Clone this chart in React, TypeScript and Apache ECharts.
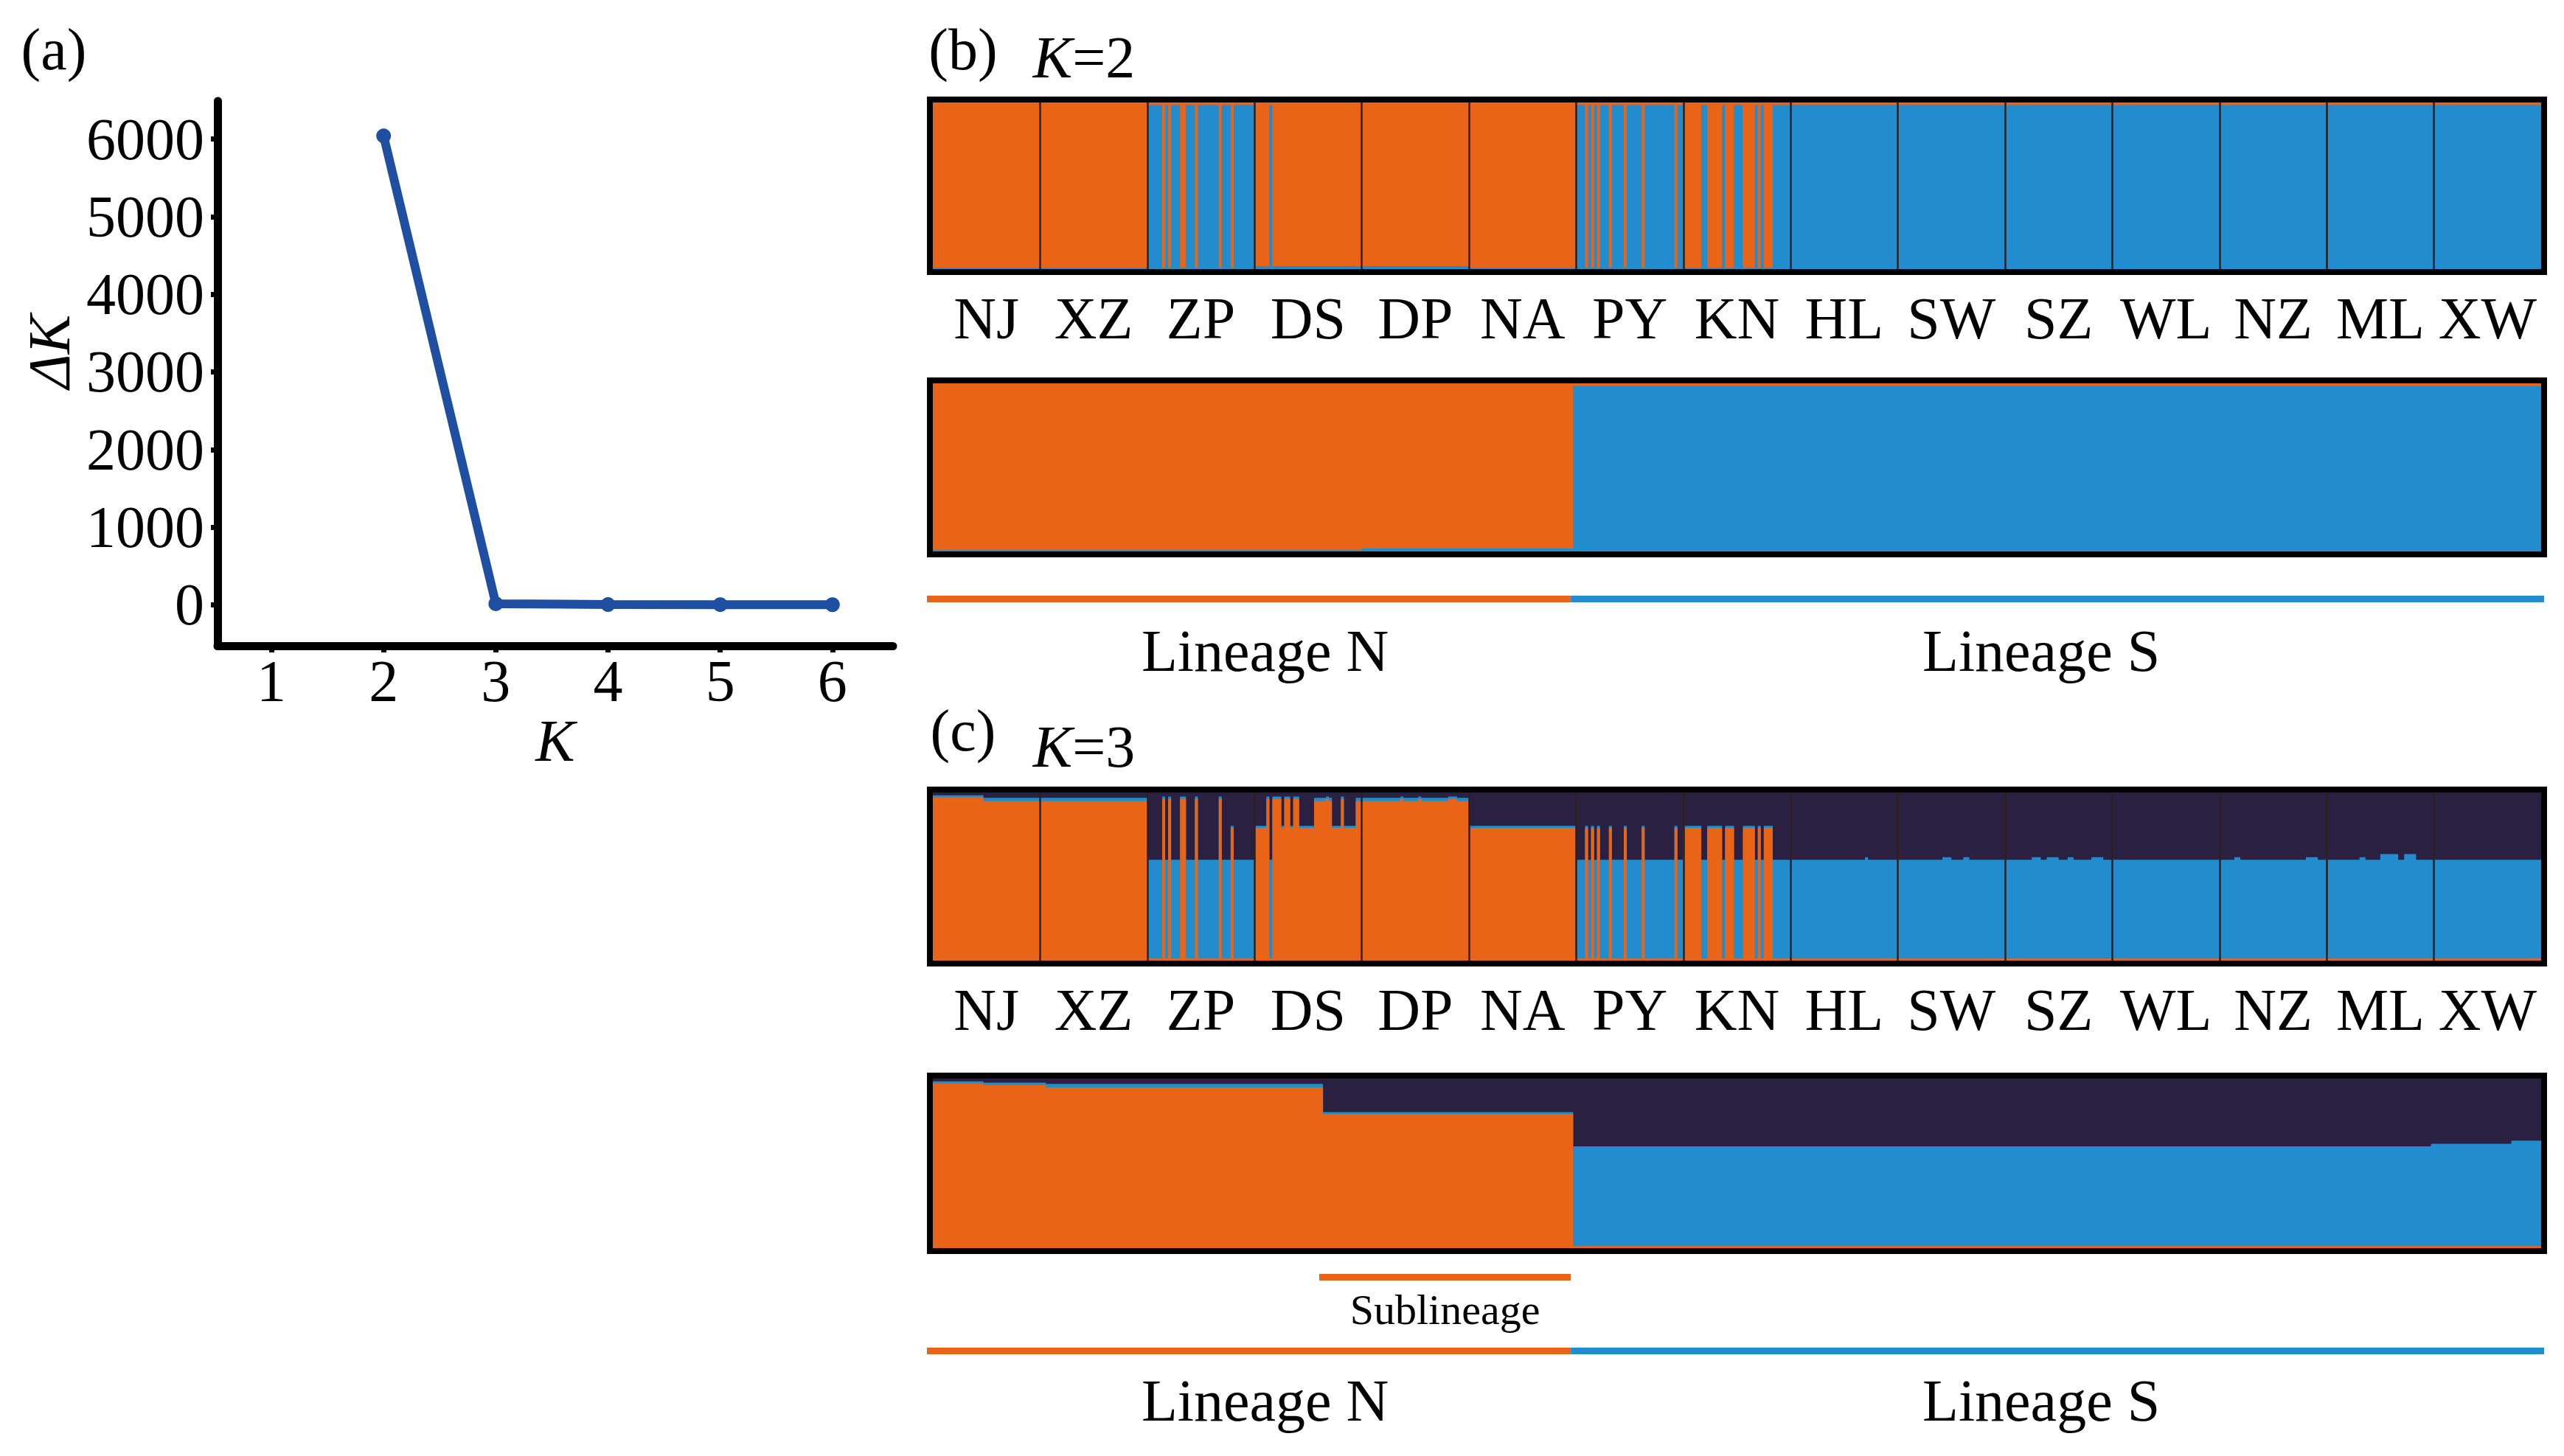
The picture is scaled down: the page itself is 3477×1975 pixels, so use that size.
import React, { useEffect, useRef } from 'react';
import * as echarts from 'echarts';

// ---------- Panel (a): Delta K ----------
const DELTA_K_X = [2, 3, 4, 5, 6];
const DELTA_K_Y = [6040, 15, 4, 3, 2];
const K_TICKS = [1, 2, 3, 4, 5, 6];
const DK_TICKS = [0, 1000, 2000, 3000, 4000, 5000, 6000];

// ---------- Panels (b)/(c): STRUCTURE ----------
const POPS = ['NJ', 'XZ', 'ZP', 'DS', 'DP', 'NA', 'PY', 'KN', 'HL', 'SW', 'SZ', 'WL', 'NZ', 'ML', 'XW'];

// K=2: blue proportion (bottom) per individual code; the rest is orange
const K2_LEVELS: Record<string, number> = { O: 0.008, P: 0.018, B: 0.985 };
const K2_CODES = [
  'OOOOOO OOOOOO OOOOOO OOOOOO OOOOOO OOOOOO', // NJ
  'OOOOOO OOOOOO OOOOOO OOOOOO OOOOOO OOOOOO', // XZ
  'BBBBBO BOBBBO OBBBOB BBBBBB OBBBOB BBBBBB', // ZP
  'PPPPPB PPPPPP PPPPPP PPPPPP PPPPPP PPPPPP', // DS
  'PPPPPP PPPPPP PPPPPP PPPPPP PPPPPP PPPPPP', // DP
  'OOOOOO OOOOOO OOOOOO OOOOOO OOOOOO OOOOOO', // NA
  'BBBOBO BOBBBO BBBBOB BBBBOB BBBBBB BBBOBB', // PY
  'OOOOOO BBOOOO OBOOOB BBOOOO BOBOOO BBBBBB', // KN
  'BBBBBB BBBBBB BBBBBB BBBBBB BBBBBB BBBBBB', // HL
  'BBBBBB BBBBBB BBBBBB BBBBBB BBBBBB BBBBBB', // SW
  'BBBBBB BBBBBB BBBBBB BBBBBB BBBBBB BBBBBB', // SZ
  'BBBBBB BBBBBB BBBBBB BBBBBB BBBBBB BBBBBB', // WL
  'BBBBBB BBBBBB BBBBBB BBBBBB BBBBBB BBBBBB', // NZ
  'BBBBBB BBBBBB BBBBBB BBBBBB BBBBBB BBBBBB', // ML
  'BBBBBB BBBBBB BBBBBB BBBBBB BBBBBB BBBBBB', // XW
];

// K=3: [orange, blue, dark] per individual code
const K3_LEVELS: Record<string, number[]> = {
  a: [0.972, 0.012, 0.016],
  h: [0.962, 0.014, 0.024],
  b: [0.948, 0.02, 0.032],
  c: [0.79, 0.012, 0.198],
  e: [0.012, 0.588, 0.4],
  f: [0.012, 0.603, 0.385],
  g: [0.012, 0.622, 0.366],
};
const K3_CODES = [
  'aaaaaa aaaaaa aaaaab bbbbbb bbbbbb bbbbbb', // NJ
  'bbbbbb bbbbbb bbbbbb bbbbbb bbbbbb bbbbbb', // XZ
  'eeeeeh eheeeh heeehe eeeeee heeece eeeeee', // ZP
  'cccche hhhchh chhccc ccbbbb hbccch ccccbb', // DS
  'bbbbbb bbbbbb bhbbbb bhbbbb bbbbbh hhbbbb', // DP
  'cccccc cccccc cccccc cccccc cccccc cccccc', // NA
  'eeecec eceeec eeeece eeeece eeeeee eeecee', // PY
  'cccccc eecccc ceccce eecccc ececcc eeeeee', // KN
  'eeeeee eeeeee eeeeee eeeeee efeeee eeeeee', // HL
  'eeeeee eeeeee eeefff eeeeff eeeeee eeeeee', // SW
  'eeeeee eeefff eeffff eeeffe eeeeef fffeee', // SZ
  'eeeeee eeeeee eeeeee eeeeee eeeeee eeeeee', // WL
  'eeeeef feeeee eeeeee eeeeee eeeeef fffeee', // NZ
  'eeeeee eeeeef feeeee gggggg eegggg eeeeee', // ML
  'eeeeee eeeeee eeeeee eeeeee eeeeee eeeeee', // XW
];

const FONT = "'Liberation Serif', 'Times New Roman', Times, serif";
const ORANGE = '#EA6417';
const BLUE = '#218DCF';
const DARK = '#2A2142';
const LINE_BLUE = '#1F4FA0';
const SEP = '#2e1f1c';

function buildOption() {
  const chars2 = K2_CODES.map((s) => s.replace(/\s/g, '').split(''));
  const chars3 = K3_CODES.map((s) => s.replace(/\s/g, '').split(''));
  const sizes = chars2.map((a) => a.length);
  const boundaries: number[] = [];
  let acc = 0;
  sizes.slice(0, -1).forEach((n) => {
    acc += n;
    boundaries.push(acc);
  });
  const k2Blue = chars2.flat().map((c) => K2_LEVELS[c]);
  const k3 = chars3.flat().map((c) => K3_LEVELS[c]);
  const total = k2Blue.length;
  const ids = k2Blue.map((_, i) => i);

  const n2 = ids.filter((i) => k2Blue[i] < 0.5).sort((a, b) => k2Blue[a] - k2Blue[b]);
  const s2 = ids.filter((i) => k2Blue[i] >= 0.5).sort((a, b) => k2Blue[a] - k2Blue[b]);
  const k2Sorted = [...n2, ...s2].map((i) => k2Blue[i]);

  const n3 = ids.filter((i) => k3[i][0] >= 0.5).sort((a, b) => k3[b][0] - k3[a][0]);
  const s3 = ids.filter((i) => k3[i][0] < 0.5).sort((a, b) => k3[a][1] - k3[b][1]);
  const k3Sorted = [...n3, ...s3].map((i) => k3[i]);
  const nSub = n3.filter((i) => k3[i][0] < 0.9).length;
  const nN = n2.length;

  const stepData = (vals: number[]) => [
    ...vals.map((v, i) => [i, v]),
    [vals.length, vals[vals.length - 1]],
  ];

  const G: Record<string, any> = {
    a: { left: 295, top: 137, width: 916, height: 739 },
    b1: { left: 1265, top: 139, width: 2181, height: 226 },
    b2: { left: 1265, top: 520, width: 2181, height: 228 },
    c1: { left: 1265, top: 1075, width: 2181, height: 228 },
    c2: { left: 1265, top: 1463, width: 2181, height: 230 },
    lb: { left: 1257, top: 808, width: 2193, height: 9 },
    sub: { left: 1257, top: 1728, width: 2193, height: 9 },
    lc: { left: 1257, top: 1828, width: 2193, height: 9 },
  };

  const gridBase = { outerBoundsMode: 'none', containLabel: false };
  const grid = [
    { ...gridBase, ...G.a },
    { ...gridBase, ...G.b1, show: true, backgroundColor: ORANGE, borderWidth: 0, borderColor: 'transparent' },
    { ...gridBase, ...G.b2, show: true, backgroundColor: ORANGE, borderWidth: 0, borderColor: 'transparent' },
    { ...gridBase, ...G.c1, show: true, backgroundColor: DARK, borderWidth: 0, borderColor: 'transparent' },
    { ...gridBase, ...G.c2, show: true, backgroundColor: DARK, borderWidth: 0, borderColor: 'transparent' },
    { ...gridBase, ...G.lb },
    { ...gridBase, ...G.sub },
    { ...gridBase, ...G.lc },
  ];

  const hiddenVal = (gridIndex: number, max: number) => ({
    gridIndex,
    type: 'value',
    min: 0,
    max,
    show: false,
  });
  const popAxis = (gridIndex: number) => ({
    gridIndex,
    type: 'category',
    data: POPS,
    position: 'bottom',
    boundaryGap: true,
    axisLine: { show: false },
    axisTick: { show: false },
    splitLine: { show: false },
    axisLabel: {
      interval: 0,
      margin: 27,
      fontSize: 80,
      fontFamily: FONT,
      color: '#000',
    },
  });

  const xAxis = [
    {
      gridIndex: 0,
      type: 'value',
      min: 0.52,
      max: 6.54,
      axisLine: { show: true, onZero: false, lineStyle: { color: '#000', width: 11 } },
      axisTick: { show: true, customValues: K_TICKS, length: 9, lineStyle: { color: '#000', width: 7 } },
      axisLabel: { customValues: K_TICKS, fontSize: 80, fontFamily: FONT, color: '#000', margin: 8 },
      splitLine: { show: false },
      name: 'K',
      nameLocation: 'middle',
      nameGap: 64,
      nameTextStyle: { fontSize: 80, fontFamily: FONT, fontStyle: 'italic', color: '#000' },
    },
    hiddenVal(1, total), // 1
    popAxis(1), // 2
    hiddenVal(2, total), // 3
    hiddenVal(3, total), // 4
    popAxis(3), // 5
    hiddenVal(4, total), // 6
    hiddenVal(5, total), // 7
    hiddenVal(6, total), // 8
    hiddenVal(7, total), // 9
  ];

  const yAxis = [
    {
      gridIndex: 0,
      type: 'value',
      min: -527,
      max: 6489,
      axisLine: { show: true, onZero: false, lineStyle: { color: '#000', width: 11 } },
      axisTick: { show: true, customValues: DK_TICKS, length: 9, lineStyle: { color: '#000', width: 7 } },
      axisLabel: {
        customValues: DK_TICKS,
        fontSize: 80,
        fontFamily: FONT,
        color: '#000',
        margin: 18,
        formatter: (v: number) => String(v),
      },
      splitLine: { show: false },
    },
    hiddenVal(1, 1),
    hiddenVal(2, 1),
    hiddenVal(3, 1),
    hiddenVal(4, 1),
    { gridIndex: 5, type: 'category', data: ['L'], show: false },
    { gridIndex: 6, type: 'category', data: ['L'], show: false },
    { gridIndex: 7, type: 'category', data: ['L'], show: false },
  ];

  const sepLine = {
    symbol: ['none', 'none'],
    silent: true,
    animation: false,
    label: { show: false },
    emphasis: { disabled: true },
    lineStyle: { color: SEP, width: 2.5, type: 'solid', opacity: 1 },
    data: boundaries.map((b) => ({ xAxis: b })),
  };

  const area = (xi: number, yi: number, vals: number[], color: string, z: number, mark?: any) => ({
    type: 'line',
    xAxisIndex: xi,
    yAxisIndex: yi,
    step: 'end',
    data: stepData(vals),
    symbol: 'none',
    showSymbol: false,
    silent: true,
    z,
    lineStyle: { width: 0, opacity: 0 },
    areaStyle: { color, opacity: 1 },
    emphasis: { disabled: true },
    ...(mark ? { markLine: mark } : {}),
  });

  const labelStyle = { fontSize: 80, fontFamily: FONT, color: '#000' };

  const series: any[] = [
    {
      type: 'line',
      xAxisIndex: 0,
      yAxisIndex: 0,
      data: DELTA_K_X.map((k, i) => [k, DELTA_K_Y[i]]),
      lineStyle: { color: LINE_BLUE, width: 12 },
      itemStyle: { color: LINE_BLUE },
      symbol: 'circle',
      symbolSize: 20,
      showSymbol: true,
      silent: true,
      z: 5,
    },
    area(1, 1, k2Blue, BLUE, 3, sepLine),
    area(3, 2, k2Sorted, BLUE, 3),
    area(4, 3, k3.map((q) => q[0] + q[1]), BLUE, 3),
    area(4, 3, k3.map((q) => q[0]), ORANGE, 4, sepLine),
    area(6, 4, k3Sorted.map((q) => q[0] + q[1]), BLUE, 3),
    area(6, 4, k3Sorted.map((q) => q[0]), ORANGE, 4),
    {
      type: 'bar', xAxisIndex: 7, yAxisIndex: 5, stack: 'lb', data: [nN], barWidth: '100%', silent: true,
      itemStyle: { color: ORANGE },
      label: { show: true, position: 'bottom', distance: 26, offset: [22, 0], formatter: 'Lineage N', ...labelStyle },
    },
    {
      type: 'bar', xAxisIndex: 7, yAxisIndex: 5, stack: 'lb', data: [total - nN], barWidth: '100%', silent: true,
      itemStyle: { color: BLUE },
      label: { show: true, position: 'bottom', distance: 26, offset: [-22, 0], formatter: 'Lineage S', ...labelStyle },
    },
    {
      type: 'bar', xAxisIndex: 8, yAxisIndex: 6, stack: 'sub', data: [n3.length - nSub], barWidth: '100%', silent: true,
      itemStyle: { color: 'rgba(0,0,0,0)' },
      label: { show: false },
    },
    {
      type: 'bar', xAxisIndex: 8, yAxisIndex: 6, stack: 'sub', data: [nSub], barWidth: '100%', silent: true,
      itemStyle: { color: ORANGE },
      label: { show: true, position: 'bottom', distance: 10, formatter: 'Sublineage', fontSize: 58, fontFamily: FONT, color: '#000' },
    },
    {
      type: 'bar', xAxisIndex: 9, yAxisIndex: 7, stack: 'lc', data: [n3.length], barWidth: '100%', silent: true,
      itemStyle: { color: ORANGE },
      label: { show: true, position: 'bottom', distance: 23, offset: [22, 0], formatter: 'Lineage N', ...labelStyle },
    },
    {
      type: 'bar', xAxisIndex: 9, yAxisIndex: 7, stack: 'lc', data: [total - n3.length], barWidth: '100%', silent: true,
      itemStyle: { color: BLUE },
      label: { show: true, position: 'bottom', distance: 23, offset: [-22, 0], formatter: 'Lineage S', ...labelStyle },
    },
  ];

  const frame = (g: any) => ({
    type: 'rect',
    z: 100,
    silent: true,
    shape: { x: g.left - 4, y: g.top - 4, width: g.width + 8, height: g.height + 8 },
    style: { fill: 'none', stroke: '#000', lineWidth: 8 },
  });
  const txt = (x: number, y: number, text: string, extra: any = {}) => ({
    type: 'text',
    x,
    y,
    z: 100,
    silent: true,
    ...extra,
    style: {
      text,
      fontSize: 80,
      fontFamily: FONT,
      fill: '#000',
      align: 'center',
      verticalAlign: 'middle',
      ...(extra.style || {}),
    },
  });
  const italicRich = { i: { fontStyle: 'italic', fontSize: 80, fontFamily: FONT, fill: '#000' } };

  const graphic = [
    frame(G.b1),
    frame(G.b2),
    frame(G.c1),
    frame(G.c2),
    txt(73, 67, '(a)'),
    txt(1306, 67, '(b)'),
    txt(1306, 991, '(c)'),
    txt(1470, 78, '{i|K}=2', { style: { rich: italicRich } }),
    txt(1470, 1013, '{i|K}=3', { style: { rich: italicRich } }),
    txt(67, 477, 'ΔK', { rotation: Math.PI / 2, style: { fontStyle: 'italic' } }),
  ];

  return {
    animation: false,
    backgroundColor: '#ffffff',
    textStyle: { fontFamily: FONT },
    grid,
    xAxis,
    yAxis,
    series,
    graphic,
  };
}

export default function App() {
  const ref = useRef<HTMLDivElement>(null);
  useEffect(() => {
    document.body.style.margin = '0';
    const chart = echarts.init(ref.current!, null, { renderer: 'svg' });
    chart.setOption(buildOption() as any);
    return () => chart.dispose();
  }, []);
  return <div ref={ref} style={{ width: 3477, height: 1975, background: '#fff' }} />;
}
